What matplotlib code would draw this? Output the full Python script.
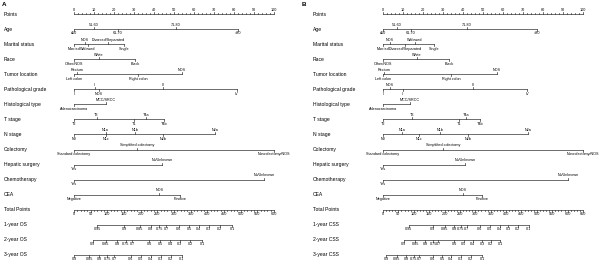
import matplotlib
matplotlib.use("Agg")
import matplotlib.pyplot as plt

plt.rcParams['font.family'] = ['Liberation Sans', 'DejaVu Sans']

row_names = ["Points", "Age", "Marital status", "Race", "Tumor location",
             "Pathological grade", "Histological type", "T stage", "N stage",
             "Colectomy", "Hepatic surgery", "Chemotherapy", "CEA", "Total Points"]

# variable levels and their points (panel A = OS, panel B = CSS)
age_levels = ["≤50", "51-60", "61-70", "71-80", ">80"]
age_os = [0, 10, 22, 51, 82]
age_css = [0, 7, 14, 42, 77]

marital_levels = ["Married", "NOS", "Widowed", "Divorced/Separated", "Single"]
marital_os = [0, 5.5, 7, 17, 25]
marital_css = [0, 3.3, 16, 11, 25.5]

race_levels = ["Other/NOS", "White", "Black"]
race_os = [0, 12.5, 30.5]
race_css = [0, 17, 33]

location_levels = ["Left colon", "Rectum", "Right colon", "NOS"]
location_os = [0, 1.7, 32, 54]
location_css = [0, 0.7, 34, 57]

grade_levels = ["I", "II", "NOS", "III", "IV"]
grade_os = [0, 10.5, 12.5, 44.7, 81.3]
grade_css = [0, 10, 3.3, 45, 72]

hist_levels = ["Adenocarcinoma", "MCC/SRCC"]
hist_os = [0, 16]
hist_css = [0, 13.3]

t_levels = ["T2", "T3", "T1", "T4a", "T4b"]
t_os = [0, 11.3, 30, 36, 45]
t_css = [0, 14.5, 38, 41.5, 48.7]

n_levels = ["N0", "N1a", "N1c", "N1b", "N2b", "N2a"]
n_os = [0, 15.8, 16.2, 30.5, 44.5, 70.5]
n_css = [0, 9.7, 18, 28.5, 42.5, 72.5]

colectomy_levels = ["Standard colectomy", "Simplified colectomy", "Noncolectomy/NOS"]
colectomy_os = [0, 31.7, 100]
colectomy_css = [0, 30, 100]

hepatic_levels = ["Yes", "No/Unknown"]
hepatic_os = [0, 44]
hepatic_css = [0, 41]

chemo_levels = ["Yes", "No/Unknown"]
chemo_os = [0, 95]
chemo_css = [0, 92.5]

cea_levels = ["Negative", "NOS", "Positive"]
cea_os = [0, 42.7, 53]
cea_css = [0, 40, 49.5]

# survival scales: probability -> total points
surv1_probs = [0.95, 0.9, 0.85, 0.8, 0.75, 0.7, 0.6, 0.5, 0.4, 0.3, 0.2, 0.1]
surv_probs = [0.9, 0.85, 0.8, 0.75, 0.7, 0.6, 0.5, 0.4, 0.3, 0.2, 0.1]
os1_total = [70, 150, 198, 231, 256, 277, 315, 346, 375, 404, 437, 474]
os2_total = [56, 96, 130, 156, 174, 226, 258, 288, 317, 349, 384]
os3_total = [0, 46, 76, 100, 120, 171, 201, 231, 261, 291, 323]
css1_total = [83, 162, 200, 232, 253, 273, 314, 347, 379, 407, 438, 474]
css2_total = [67, 105, 138, 164, 180, 232, 262, 291, 322, 351, 381]
css3_total = [11, 45, 76, 100, 118, 162, 192, 221, 253, 286, 322]

total_max_os = 600
total_max_css = 650

LC = "#333333"
FS_ROW = 3.6
FS_TICK = 2.7
Y0, DY = 14, 15.06
TL = 2.0   # tick length (px)
OFF = 4.4  # label offset (px)


def draw_variable(ax, y, levels, pts):
    ax.plot([min(pts), max(pts)], [y, y], color=LC, lw=0.5)
    order = sorted(range(len(pts)), key=lambda i: pts[i])
    for k, i in enumerate(order):
        d = -1 if k % 2 == 1 else 1
        ax.plot([pts[i], pts[i]], [y, y + d * TL], color=LC, lw=0.5)
        ax.text(pts[i], y + d * OFF, levels[i], ha="center", va="center",
                fontsize=FS_TICK, color="black")


def draw_panel(ax, letter, variables, total_max, surv_rows):
    if letter == "A":
        ax.set_xlim(-37, 113)
    else:
        ax.set_xlim(-41.5, 108.5)
    ax.set_ylim(263, 0)
    ax.axis("off")
    ax.text(ax.get_xlim()[0] + 0.8, 5, letter, fontsize=4.5,
            fontweight="bold", va="center", ha="left")
    rows = row_names + [r[0] for r in surv_rows]
    for i, name in enumerate(rows):
        ax.text(-35, Y0 + i * DY, name, fontsize=FS_ROW, va="center", ha="left")

    # points scale
    y = Y0
    ax.plot([0, 100], [y, y], color=LC, lw=0.5)
    for v in range(0, 101, 2):
        major = v % 10 == 0
        ax.plot([v, v], [y, y - (TL if major else TL * 0.6)], color=LC, lw=0.5)
        if major:
            ax.text(v, y - OFF, str(v), ha="center", va="center", fontsize=FS_TICK)

    for j, (levels, pts) in enumerate(variables):
        draw_variable(ax, Y0 + (j + 1) * DY, levels, pts)

    # total points
    y = Y0 + 13 * DY
    sc = 100.0 / total_max
    ax.plot([0, 100], [y, y], color=LC, lw=0.5)
    for v in range(0, total_max + 1, 10):
        major = v % 50 == 0
        ax.plot([v * sc, v * sc], [y, y + (TL if major else TL * 0.6)], color=LC, lw=0.5)
        if major:
            ax.text(v * sc, y + OFF, str(v), ha="center", va="center", fontsize=FS_TICK)

    # survival probability scales
    for k, (name, probs, totals) in enumerate(surv_rows):
        y = Y0 + (14 + k) * DY
        xs = [t * sc for t in totals]
        ax.plot([min(xs), max(xs)], [y, y], color=LC, lw=0.5)
        for p, x in zip(probs, xs):
            ax.plot([x, x], [y, y + TL], color=LC, lw=0.5)
            ax.text(x, y + OFF, "%g" % p, ha="center", va="center", fontsize=FS_TICK)


fig = plt.figure(figsize=(6, 2.63), dpi=100)
axA = fig.add_axes([0, 0, 0.5, 1])
axB = fig.add_axes([0.5, 0, 0.5, 1])

vars_os = [(age_levels, age_os), (marital_levels, marital_os), (race_levels, race_os),
           (location_levels, location_os), (grade_levels, grade_os), (hist_levels, hist_os),
           (t_levels, t_os), (n_levels, n_os), (colectomy_levels, colectomy_os),
           (hepatic_levels, hepatic_os), (chemo_levels, chemo_os), (cea_levels, cea_os)]
vars_css = [(age_levels, age_css), (marital_levels, marital_css), (race_levels, race_css),
            (location_levels, location_css), (grade_levels, grade_css), (hist_levels, hist_css),
            (t_levels, t_css), (n_levels, n_css), (colectomy_levels, colectomy_css),
            (hepatic_levels, hepatic_css), (chemo_levels, chemo_css), (cea_levels, cea_css)]

draw_panel(axA, "A", vars_os, total_max_os,
           [("1-year OS", surv1_probs, os1_total),
            ("2-year OS", surv_probs, os2_total),
            ("3-year OS", surv_probs, os3_total)])
draw_panel(axB, "B", vars_css, total_max_css,
           [("1-year CSS", surv1_probs, css1_total),
            ("2-year CSS", surv_probs, css2_total),
            ("3-year CSS", surv_probs, css3_total)])

fig.savefig("out.png", dpi=100, facecolor="white")
